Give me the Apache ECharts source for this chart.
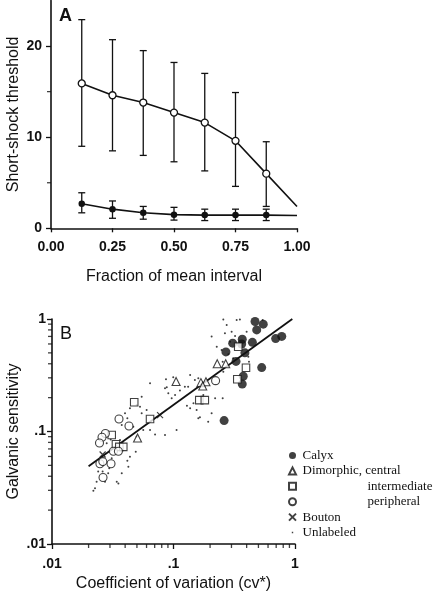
<!DOCTYPE html>
<html><head><meta charset="utf-8">
<script src="https://cdn.jsdelivr.net/npm/echarts@6/dist/echarts.min.js"></script>
<style>html,body{margin:0;padding:0;background:#fff}#c{width:436px;height:599px}</style>
</head><body><div id="c"></div>
<script>
// ---------- Panel A data ----------
const fractionA = [0.125, 0.25, 0.375, 0.5, 0.625, 0.75, 0.875, 1.0];
const openMean = [15.9, 14.6, 13.8, 12.7, 11.6, 9.6, 6.0, 2.4];
const openLow = [9.0, 8.5, 8.0, 7.3, 6.3, 4.6, 2.4];
const openHigh = [22.9, 20.7, 19.5, 18.2, 17.0, 14.9, 9.5];
const filledMean = [2.7, 2.1, 1.7, 1.5, 1.45, 1.45, 1.45, 1.4];
const filledLow = [1.7, 1.1, 1.0, 0.9, 0.85, 0.85, 0.85];
const filledHigh = [3.9, 3.0, 2.4, 2.3, 2.1, 2.1, 2.1];
const yTicksA = [0, 10, 20];
const yMinorA = [5, 15];

// ---------- Panel B data ----------
const calyx = [[0.469,0.95],[0.548,0.90],[0.484,0.80],[0.368,0.66],[0.446,0.62],[0.270,0.51],[0.364,0.60],[0.387,0.50],[0.327,0.42],[0.693,0.67],[0.778,0.70],[0.532,0.37],[0.375,0.31],[0.368,0.264],[0.261,0.125],[0.307,0.61]];
const dimCentral = [[0.229,0.40],[0.269,0.40],[0.105,0.278],[0.168,0.272],[0.185,0.277],[0.174,0.254],[0.0506,0.0875]];
const dimIntermediate = [[0.0475,0.182],[0.0641,0.129],[0.031,0.093],[0.0336,0.077],[0.0358,0.073],[0.0386,0.073],[0.163,0.19],[0.181,0.19],[0.335,0.291],[0.395,0.369],[0.341,0.567]];
const dimPeripheral = [[0.0356,0.129],[0.043,0.112],[0.0275,0.096],[0.0258,0.089],[0.0246,0.079],[0.032,0.0668],[0.0352,0.0668],[0.0248,0.0517],[0.0306,0.0517],[0.0263,0.039],[0.222,0.283],[0.0262,0.054]];
const bouton = [[0.0261,0.0625],[0.0775,0.140]];
const unlabeled = [[0.352,0.99],[0.542,0.98],[0.274,0.885],[0.301,0.77],[0.265,0.746],[0.321,0.706],[0.40,0.77],[0.418,0.417],[0.413,0.462],[0.310,0.448],
 [0.254,0.417],[0.257,0.34],[0.254,0.197],[0.206,0.145],[0.193,0.122],[0.165,0.134],[0.132,0.25],[0.124,0.25],[0.137,0.318],[0.0995,0.303],
 [0.0867,0.291],[0.088,0.247],[0.0906,0.219],[0.103,0.211],[0.113,0.231],[0.146,0.178],[0.129,0.169],[0.176,0.211],[0.16,0.297],[0.0851,0.093],
 [0.0705,0.094],[0.106,0.103],[0.0547,0.145],[0.053,0.166],[0.0601,0.155],[0.0438,0.161],[0.0417,0.131],[0.0399,0.145],[0.0467,0.110],[0.0375,0.114],
 [0.0498,0.090],[0.0489,0.066],[0.0438,0.0597],[0.0417,0.055],[0.0425,0.0487],[0.0375,0.0425],[0.0341,0.0358],[0.0352,0.0345],[0.029,0.0425],[0.0273,0.0358],
 [0.0226,0.0313],[0.0219,0.0298],[0.0233,0.0358],[0.031,0.0578],[0.0282,0.0785],[0.0363,0.084],[0.0304,0.085],[0.0564,0.103],[0.0641,0.103],[0.024,0.044],
 [0.0296,0.0471],[0.0261,0.044],[0.331,0.98],[0.22,0.197],[0.155,0.155],[0.206,0.70],[0.227,0.567],[0.249,0.53],[0.292,0.628],[0.283,0.486],
 [0.257,0.99],[0.150,0.287],[0.0966,0.197],[0.137,0.161],[0.16,0.131],[0.0641,0.268],[0.0851,0.242],[0.0547,0.204],[0.0498,0.172]];
const fitLine = [[0.02,0.049],[0.95,1.0]];
const logMinor = [0.02,0.03,0.04,0.05,0.06,0.07,0.08,0.09,0.2,0.3,0.4,0.5,0.6,0.7,0.8,0.9];

const INK = '#111';
const SANS = 'Liberation Sans, Arial, sans-serif';
const SERIF = 'Liberation Serif, Times New Roman, serif';

function errData(low, high) { return low.map((l, i) => [fractionA[i], l, high[i]]); }
function errRender(params, api) {
  const x = api.value(0);
  const p1 = api.coord([x, api.value(1)]);
  const p2 = api.coord([x, api.value(2)]);
  const w = 3.5;
  const st = { stroke: INK, lineWidth: 1.3 };
  return { type: 'group', children: [
    { type: 'line', shape: { x1: p1[0], y1: p1[1], x2: p2[0], y2: p2[1] }, style: st },
    { type: 'line', shape: { x1: p1[0]-w, y1: p1[1], x2: p1[0]+w, y2: p1[1] }, style: st },
    { type: 'line', shape: { x1: p2[0]-w, y1: p2[1], x2: p2[0]+w, y2: p2[1] }, style: st }
  ]};
}
// minor tick marks: small rect symbols placed on the axis through its scale
function minorTicks(xi, yi, data, vertical) {
  return { type: 'scatter', xAxisIndex: xi, yAxisIndex: yi, data: data, clip: false, silent: true, z: 6,
    symbol: 'rect', symbolSize: vertical ? [1.3, 4] : [4, 1.3], symbolOffset: vertical ? [0, 2] : [-2, 0],
    itemStyle: { color: INK }, emphasis: { disabled: true }, tooltip: { show: false } };
}
function lineData(means) {
  return means.map((m, i) => i === fractionA.length - 1 ? { value: [fractionA[i], m], symbol: 'none' } : [fractionA[i], m]);
}
function logFmt(v) {
  const s = String(+Number(v).toPrecision(3));
  return s.startsWith('0.') ? s.slice(1) : s;
}
const axisLineSt = { lineStyle: { color: INK, width: 1.6 } };
const tickSt = { lineStyle: { color: INK, width: 1.3 } };
const lab = { fontFamily: SANS, fontSize: 14, fontWeight: 'bold', color: INK };
const nameSt = { fontFamily: SANS, fontSize: 16, color: INK };

const legendNames = ['Calyx', 'Dimorphic, central', 'intermediate', 'peripheral', 'Bouton', 'Unlabeled'];

const chart = echarts.init(document.getElementById('c'), null, { renderer: 'canvas' });
chart.setOption({
  animation: false,
  backgroundColor: '#fff',
  title: [
    { text: 'A', left: 54, top: 2, textStyle: { fontFamily: SANS, fontSize: 18, fontWeight: 'bold', color: INK } },
    { text: 'B', left: 55, top: 320, textStyle: { fontFamily: SANS, fontSize: 18, fontWeight: 'normal', color: INK } }
  ],
  grid: [
    { left: 51, top: 0.5, width: 246, height: 227.8, containLabel: false, outerBoundsMode: 'none' },
    { left: 52, top: 319, width: 243, height: 225, containLabel: false, outerBoundsMode: 'none' }
  ],
  xAxis: [
    { gridIndex: 0, type: 'value', min: 0, max: 1, interval: 0.25, position: 'bottom',
      axisLine: axisLineSt, axisTick: Object.assign({ length: 4 }, tickSt),
      axisLabel: Object.assign({ margin: 12, formatter: v => v.toFixed(2) }, lab),
      splitLine: { show: false },
      name: 'Fraction of mean interval', nameLocation: 'middle', nameGap: 40, nameMoveOverlap: false, nameTextStyle: nameSt },
    { gridIndex: 1, type: 'log', logBase: 10, min: 0.01, max: 1, position: 'bottom',
      axisLine: axisLineSt, axisTick: Object.assign({ length: 5 }, tickSt),
      axisLabel: Object.assign({ margin: 13, formatter: logFmt }, lab),
      splitLine: { show: false },
      name: 'Coefficient of variation (cv*)', nameLocation: 'middle', nameGap: 32, nameMoveOverlap: false, nameTextStyle: nameSt }
  ],
  yAxis: [
    { gridIndex: 0, type: 'value', min: 0, max: 25, interval: 10, position: 'left',
      axisLine: axisLineSt, axisTick: Object.assign({ length: 5, customValues: yTicksA }, tickSt),
      axisLabel: Object.assign({ margin: 9, customValues: yTicksA }, lab),
      splitLine: { show: false },
      name: 'Short-shock threshold', nameLocation: 'middle', nameGap: 29, nameMoveOverlap: false, nameTextStyle: nameSt },
    { gridIndex: 1, type: 'log', logBase: 10, min: 0.01, max: 1, position: 'left',
      axisLine: axisLineSt, axisTick: Object.assign({ length: 5 }, tickSt),
      axisLabel: Object.assign({ margin: 6, formatter: logFmt }, lab),
      splitLine: { show: false },
      name: 'Galvanic sensitivity', nameLocation: 'middle', nameGap: 30, nameMoveOverlap: false, nameTextStyle: nameSt }
  ],
  legend: {
    data: legendNames.map(n => n === 'Unlabeled'
      ? { name: n, icon: 'path://M0,0L0.01,0ZM10,10L10.01,10ZM4,4L6,4L6,6L4,6Z' }
      : n),
    orient: 'vertical', left: 281.5, top: 444, itemWidth: 7, itemHeight: 7, itemGap: 2.4,
    selectedMode: false,
    formatter: n => '{s|}' + ((n === 'intermediate' || n === 'peripheral') ? '{i|}' : '') + '{t|' + n + '}',
    textStyle: {
      rich: {
        s: { width: 1.5 },
        i: { width: 65 },
        t: { fontFamily: SERIF, fontSize: 13, color: INK }
      }
    }
  },
  series: [
    // Panel A minor ticks
    minorTicks(0, 0, yMinorA.map(v => [0, v]), false),
    // Panel A error bars
    { type: 'custom', xAxisIndex: 0, yAxisIndex: 0, renderItem: errRender, data: errData(openLow, openHigh), encode: { x: 0, y: [1, 2] }, z: 1, silent: true },
    { type: 'custom', xAxisIndex: 0, yAxisIndex: 0, renderItem: errRender, data: errData(filledLow, filledHigh), encode: { x: 0, y: [1, 2] }, z: 1, silent: true },
    { type: 'line', name: 'open', xAxisIndex: 0, yAxisIndex: 0, data: lineData(openMean),
      symbol: 'circle', symbolSize: 7, showAllSymbol: true, z: 3,
      lineStyle: { color: INK, width: 1.6 }, itemStyle: { color: '#fff', borderColor: INK, borderWidth: 1.3 } },
    { type: 'line', name: 'filled', xAxisIndex: 0, yAxisIndex: 0, data: lineData(filledMean),
      symbol: 'circle', symbolSize: 6.5, showAllSymbol: true, z: 3,
      lineStyle: { color: INK, width: 1.6 }, itemStyle: { color: INK, borderColor: INK, borderWidth: 0 } },
    // Panel B minor ticks (log)
    minorTicks(1, 1, logMinor.map(v => [v, 0.01]), true),
    minorTicks(1, 1, logMinor.map(v => [0.01, v]), false),
    // Panel B data
    { type: 'scatter', name: 'Unlabeled', xAxisIndex: 1, yAxisIndex: 1, data: unlabeled,
      symbol: 'circle', symbolSize: 2, itemStyle: { color: INK }, z: 2 },
    { type: 'line', name: 'fit', xAxisIndex: 1, yAxisIndex: 1, data: fitLine,
      showSymbol: false, symbol: 'none', lineStyle: { color: INK, width: 1.8 }, z: 3 },
    { type: 'scatter', name: 'Calyx', xAxisIndex: 1, yAxisIndex: 1, data: calyx,
      symbol: 'circle', symbolSize: 9, itemStyle: { color: INK }, z: 4 },
    { type: 'scatter', name: 'Dimorphic, central', xAxisIndex: 1, yAxisIndex: 1, data: dimCentral,
      symbol: 'triangle', symbolSize: 8, itemStyle: { color: '#fff', borderColor: INK, borderWidth: 1.1 }, z: 4 },
    { type: 'scatter', name: 'intermediate', xAxisIndex: 1, yAxisIndex: 1, data: dimIntermediate,
      symbol: 'rect', symbolSize: 7.5, itemStyle: { color: '#fff', borderColor: INK, borderWidth: 1.1 }, z: 4 },
    { type: 'scatter', name: 'peripheral', xAxisIndex: 1, yAxisIndex: 1, data: dimPeripheral,
      symbol: 'circle', symbolSize: 8, itemStyle: { color: '#fff', borderColor: INK, borderWidth: 1.1 }, z: 4 },
    { type: 'scatter', name: 'Bouton', xAxisIndex: 1, yAxisIndex: 1, data: bouton,
      symbol: 'path://M0,0L10,10M10,0L0,10', symbolSize: 6, itemStyle: { color: 'none', borderColor: INK, borderWidth: 1.2 }, z: 4 }
  ]
});
</script>
</body></html>
